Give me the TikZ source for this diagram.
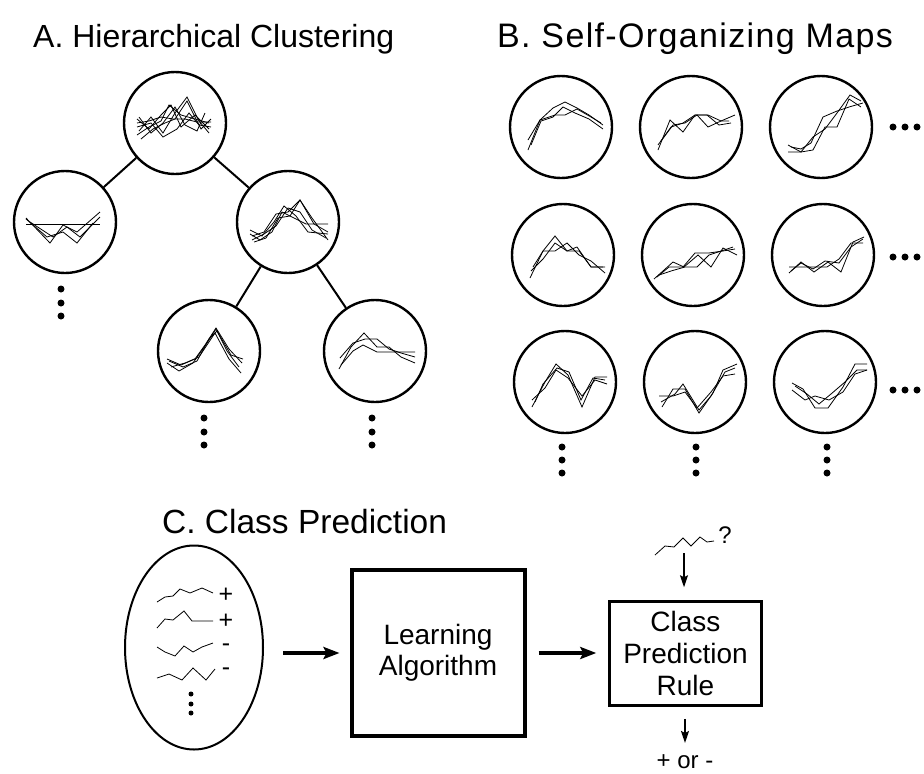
\documentclass[tikz,border=0pt]{standalone}
\usepackage{fontspec}
\setmainfont{Liberation Sans}
\usetikzlibrary{shapes.geometric,arrows.meta,positioning}

\tikzset{
  clus/.style={circle,draw,line width=2.4pt,minimum size=102pt,inner sep=0pt},
  prof/.style={line width=0.8pt,line join=miter},
  link/.style={line width=2pt},
  bigdot/.style={circle,fill,inner sep=0pt,minimum size=7pt},
  smalldot/.style={circle,fill,inner sep=0pt,minimum size=5pt},
  heading/.style={font=\fontsize{32}{38}\selectfont,anchor=base west,inner sep=0pt},
  boxlabel/.style={font=\fontsize{28}{31}\selectfont,align=center},
  sign/.style={font=\fontsize{25}{28}\selectfont,inner sep=0pt,text height=14pt,text depth=0pt},
  fatarrow/.style={line width=4pt,-{Stealth[length=16pt,width=12pt,inset=3pt]}},
  thinarrow/.style={line width=1.5pt,-{Stealth[length=12pt,width=8pt,inset=2pt]}}
}

\begin{document}
\begin{tikzpicture}[x=1pt,y=-1pt]
\useasboundingbox (0,0) rectangle (924,774);

\node[heading] (titleA) at (33,47) {A. Hierarchical Clustering};
\node[heading,font=\fontsize{34}{38}\selectfont\addfontfeatures{LetterSpace=4}] (titleB) at (497,47) {B. Self-Organizing Maps};
\node[heading,font=\fontsize{33.5}{38}\selectfont] (titleC) at (162,533) {C. Class Prediction};

\node[clus] (root) at (175,123) {};
\node[clus] (left) at (65,222) {};
\node[clus] (right) at (288,222) {};
\node[clus] (rl) at (209,351) {};
\node[clus] (rr) at (375,351) {};
\draw[link] (root) -- (left);
\draw[link] (root) -- (right);
\draw[link] (right) -- (rl);
\draw[link] (right) -- (rr);

\foreach \i/\y in {1/289,2/303,3/316}
  \node[bigdot] (ldot\i) at (61,\y) {};
\foreach \i/\y in {1/418,2/432,3/445} {
  \node[bigdot] (rldot\i) at (204,\y) {};
  \node[bigdot] (rrdot\i) at (372,\y) {};
}

\begin{scope}[shift={(root.center)}]
\draw[prof] (-38,0)--(-26,-2)--(-14,-6)--(-2,-4)--(10,-4)--(22,-1)--(36,-1);
\draw[prof] (-38,-4)--(-26,6)--(-14,-8)--(-4,-18)--(6,4)--(20,-8)--(34,6);
\draw[prof] (-36,8)--(-24,-6)--(-12,10)--(0,-10)--(12,-26)--(24,-2)--(34,10);
\draw[prof] (-38,12)--(-26,4)--(-14,-2)--(-6,-18)--(6,-8)--(20,-4)--(34,0);
\draw[prof] (-34,16)--(-22,6)--(-10,0)--(0,-4)--(12,-22)--(26,6)--(36,-4);
\draw[prof] (-38,4)--(-24,0)--(-12,14)--(2,6)--(14,-10)--(24,2)--(36,4);
\draw[prof] (-36,-6)--(-24,10)--(-12,0)--(0,-16)--(10,2)--(22,8)--(30,-10);
\end{scope}
\begin{scope}[shift={(left.center)}]
\draw[prof] (-39,2)--(35,2);
\draw[prof] (-39,-4)--(-15,21)--(-2,3)--(12,10)--(35,-10);
\draw[prof] (-39,-3)--(-18,15)--(-2,10)--(12,21)--(28,1);
\draw[prof] (-35,0)--(-12,15)--(2,5)--(15,15)--(35,-5);
\end{scope}
\begin{scope}[shift={(right.center)}]
\draw[prof] (-38,8)--(-26,14)--(-14,0)--(-4,-16)--(8,-6)--(20,10)--(40,12);
\draw[prof] (-36,14)--(-24,10)--(-12,-8)--(0,-10)--(12,-22)--(24,-4)--(40,18);
\draw[prof] (-38,12)--(-28,18)--(-16,10)--(-6,-10)--(6,-4)--(18,2)--(40,2);
\draw[prof] (-36,18)--(-24,12)--(-12,4)--(0,-14)--(12,-10)--(24,8)--(38,16);
\draw[prof] (-34,20)--(-22,16)--(-10,-4)--(2,-6)--(12,-22)--(26,2)--(40,10);
\end{scope}
\begin{scope}[shift={(rl.center)}]
\draw[prof] (-42,8)--(-28,14)--(-14,8)--(-4,-6)--(7,-23)--(20,-2)--(33,12);
\draw[prof] (-42,12)--(-30,20)--(-16,12)--(-2,-8)--(7,-22)--(18,0)--(30,16);
\draw[prof] (-40,10)--(-26,16)--(-12,10)--(0,-12)--(8,-20)--(22,4)--(34,8);
\draw[prof] (-38,16)--(-24,12)--(-10,6)--(2,-12)--(6,-18)--(20,8)--(32,22);
\end{scope}
\begin{scope}[shift={(rr.center)}]
\draw[prof] (-36,18)--(-24,-4)--(-11,-18)--(2,-4)--(14,-4)--(26,6)--(40,12);
\draw[prof] (-35,7)--(-22,-8)--(-10,-12)--(2,-12)--(14,-2)--(26,2)--(40,6);
\draw[prof] (-34,14)--(-22,0)--(-12,-6)--(2,1)--(14,1)--(26,1)--(40,1);
\end{scope}

\foreach \row/\y in {1/127,2/255,3/382}
  \foreach \col/\x in {1/562,2/692,3/822}
    \node[clus] (som\row\col) at ({\x+2*\row-3},\y) {};
\foreach \row/\y in {1/127,2/257,3/390}
  \foreach \i/\x in {1/893,2/905,3/917}
    \node[bigdot] (more\row\i) at (\x,\y) {};
\foreach \col/\x in {1/562,2/696,3/827}
  \foreach \i/\y in {1/447,2/460,3/473}
    \node[bigdot] (below\col\i) at (\x,\y) {};

\begin{scope}[shift={(som11.center)}]
\draw[prof] (-33,13)--(-21,-7)--(-8,-19)--(4,-25)--(16,-19)--(28,-12)--(42,-2);
\draw[prof] (-33,23)--(-21,-7)--(-6,-12)--(4,-12)--(16,-18)--(30,-10)--(40,-4);
\draw[prof] (-30,18)--(-20,-6)--(-8,-10)--(2,-20)--(14,-14)--(28,-8)--(42,2);
\end{scope}
\begin{scope}[shift={(som12.center)}]
\draw[prof] (-33,23)--(-21,-7)--(-8,5)--(4,-12)--(17,-12)--(30,-6)--(44,-12);
\draw[prof] (-30,14)--(-18,-2)--(-6,-4)--(6,-12)--(17,0)--(30,-6)--(38,-6);
\draw[prof] (-33,18)--(-20,0)--(-8,-4)--(4,-12)--(16,-12)--(28,-2)--(40,-4);
\end{scope}
\begin{scope}[shift={(som13.center)}]
\draw[prof] (-33,18)--(-20,25)--(-8,23)--(4,0)--(16,0)--(28,-28)--(40,-20);
\draw[prof] (-33,25)--(-20,25)--(-8,10)--(4,2)--(16,-14)--(29,-32)--(40,-26);
\draw[prof] (-30,20)--(-20,22)--(-10,16)--(2,-10)--(16,-16)--(28,-20)--(42,-24);
\end{scope}
\begin{scope}[shift={(som21.center)}]
\draw[prof] (-33,23)--(-20,-4)--(-8,-19)--(4,-4)--(16,-4)--(28,12)--(42,12);
\draw[prof] (-30,12)--(-20,-4)--(-8,-4)--(4,-12)--(16,0)--(28,6)--(42,18);
\draw[prof] (-32,16)--(-20,4)--(-8,-12)--(4,-4)--(14,-8)--(28,12)--(40,12);
\end{scope}
\begin{scope}[shift={(som22.center)}]
\draw[prof] (-39,24)--(-20,7)--(-9,12)--(5,0)--(18,12)--(30,-7)--(44,0);
\draw[prof] (-34,20)--(-22,16)--(-8,12)--(4,12)--(16,0)--(28,-4)--(40,-8);
\draw[prof] (-36,22)--(-24,12)--(-10,12)--(2,-2)--(16,-2)--(30,-4)--(42,-6);
\end{scope}
\begin{scope}[shift={(som23.center)}]
\draw[prof] (-34,18)--(-22,7)--(-9,17)--(5,7)--(18,17)--(30,-13)--(41,-18);
\draw[prof] (-34,12)--(-22,12)--(-10,12)--(4,12)--(16,4)--(28,-12)--(40,-12);
\draw[prof] (-32,16)--(-22,8)--(-10,14)--(2,6)--(16,8)--(28,-8)--(40,-16);
\end{scope}
\begin{scope}[shift={(som31.center)}]
\draw[prof] (-33,25)--(-20,0)--(-9,-18)--(3,-7)--(17,25)--(30,-5)--(42,-5);
\draw[prof] (-33,18)--(-20,6)--(-9,-12)--(3,-4)--(17,14)--(30,-2)--(42,2);
\draw[prof] (-30,20)--(-22,2)--(-8,-14)--(4,-10)--(16,18)--(28,-4)--(40,-2);
\end{scope}
\begin{scope}[shift={(som32.center)}]
\draw[prof] (-33,25)--(-22,7)--(-10,7)--(4,31)--(18,11)--(28,-12)--(42,-18);
\draw[prof] (-36,14)--(-22,14)--(-10,10)--(2,26)--(16,10)--(28,-6)--(40,-8);
\draw[prof] (-34,20)--(-20,12)--(-12,2)--(4,28)--(16,14)--(30,-10)--(40,-14);
\end{scope}
\begin{scope}[shift={(som33.center)}]
\draw[prof] (-33,1)--(-22,7)--(-10,26)--(3,26)--(18,5)--(30,-18)--(42,-18);
\draw[prof] (-33,8)--(-20,18)--(-10,14)--(4,18)--(18,10)--(30,-8)--(42,-12);
\draw[prof] (-30,4)--(-18,12)--(-6,22)--(6,12)--(20,0)--(32,-12)--(42,-12);
\end{scope}

\node[draw,ellipse,line width=2pt,minimum width=138pt,minimum height=204pt] (train) at (194,647.5) {};
\draw[prof] (157,602)--(165,597)--(173,596)--(180,589)--(190,593)--(202,588)--(213,593);
\draw[prof] (157,628)--(165,619)--(173,620)--(184,611)--(192,621)--(213,621);
\draw[prof] (157,647)--(165,652)--(175,656)--(184,646)--(193,652)--(202,647)--(213,643);
\draw[prof] (157,678)--(169,674)--(182,680)--(193,668)--(206,680)--(215,669);
\node[sign] (plus1) at (226,595) {+};
\node[sign] (plus2) at (226,621) {+};
\node[sign] (minus1) at (226,644) {-};
\node[sign] (minus2) at (226,668) {-};
\foreach \i/\y in {1/694,2/704,3/713}
  \node[smalldot] (tdot\i) at (191,\y) {};

\node[draw,line width=4pt,minimum width=173pt,minimum height=166pt,boxlabel] (learn) at (438,653) {Learning\\Algorithm};
\node[draw,line width=2.5pt,minimum width=152pt,minimum height=104pt,boxlabel,font=\fontsize{28}{32}\selectfont] (rule) at (685.5,653.5) {Class\\Prediction\\Rule};
\draw[fatarrow,shorten <=19pt,shorten >=10pt] (learn.west -| train.east) -- (learn.west);
\draw[fatarrow,shorten <=12pt,shorten >=12pt] (learn.east) -- (learn.east -| rule.west);

\draw[prof] (655,555)--(665,546)--(674,547)--(683,538)--(691,546)--(700,537)--(707,542)--(714,541);
\node[sign,font=\fontsize{24}{28}\selectfont] (query) at (725,536) {?};
\coordinate (newcase) at (684,553);
\draw[thinarrow,shorten >=13pt] (newcase) -- (rule.north -| newcase);
\node[anchor=base,inner sep=0pt,font=\fontsize{24}{28}\selectfont] (verdict) at (685,768) {+ or -};
\draw[thinarrow,shorten <=12pt,shorten >=11pt] (rule.south -| verdict) -- (verdict.north);
\end{tikzpicture}
\end{document}
